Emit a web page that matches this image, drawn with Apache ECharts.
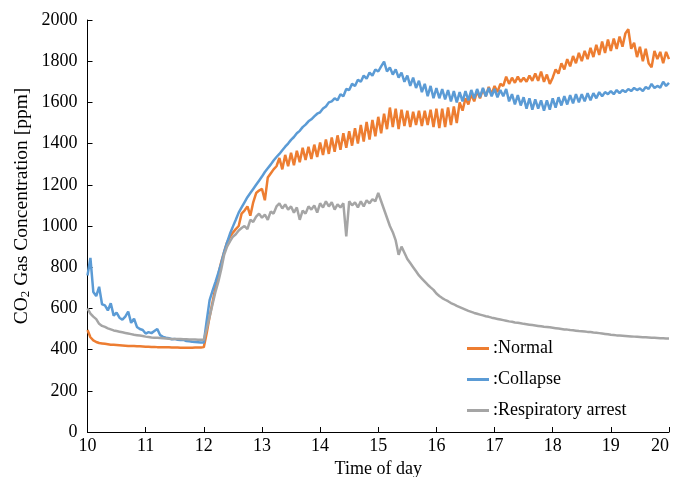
<!DOCTYPE html>
<html>
<head>
<meta charset="utf-8">
<script src="https://cdn.jsdelivr.net/npm/echarts@6/dist/echarts.min.js"></script>
<style>
html,body{margin:0;padding:0;background:#fff;}
#chart{width:673px;height:477px;}
</style>
</head>
<body>
<div id="chart"></div>
<script>
// Sampling: readings every 0.05 h starting at 10.00
const timeStart = 10.0;
const timeStep = 0.05;

const seriesNames = ['Normal', 'Collapse', 'Respiratory arrest'];
const xTicks = [10, 11, 12, 13, 14, 15, 16, 17, 18, 19, 20];
const yTicks = [0, 200, 400, 600, 800, 1000, 1200, 1400, 1600, 1800, 2000];

const normal = [
495,460,445,437,432,430,428,426,424,423,422,421,420,419,418,418,417,416,416,415,
414,414,413,413,412,412,411,411,411,410,410,410,409,409,409,409,409,410,410,410,
412,480,560,630,700,765,825,875,920,948,968,985,1000,1060,1075,1095,1050,1115,1160,1172,
1180,1125,1235,1255,1275,1290,1330,1275,1345,1290,1355,1295,1365,1310,1380,1320,1385,1325,1395,1335,
1405,1345,1420,1350,1430,1360,1440,1370,1450,1380,1460,1390,1475,1400,1490,1410,1505,1420,1515,1435,
1530,1450,1545,1470,1575,1480,1570,1470,1565,1485,1560,1480,1555,1490,1560,1485,1560,1490,1565,1480,
1570,1475,1570,1480,1575,1490,1580,1500,1600,1560,1620,1590,1640,1605,1655,1620,1665,1630,1675,1640,
1680,1650,1690,1680,1725,1690,1720,1695,1725,1700,1720,1700,1730,1705,1740,1705,1750,1700,1735,1690,
1720,1760,1740,1790,1760,1810,1775,1825,1790,1840,1800,1850,1810,1865,1820,1880,1830,1895,1840,1905,
1850,1910,1860,1920,1870,1935,1955,1860,1890,1820,1870,1800,1860,1790,1770,1850,1810,1845,1790,1845,
1810
];

const collapse = [
760,845,680,660,705,620,615,590,625,565,580,555,545,560,585,530,550,510,500,495,
478,485,480,490,500,470,462,458,455,450,452,448,446,447,442,440,438,437,436,434,
435,540,640,685,728,772,820,875,920,962,997,1030,1065,1090,1115,1140,1160,1180,1200,1220,
1240,1262,1280,1298,1318,1335,1350,1368,1385,1400,1418,1432,1450,1462,1480,1492,1508,1518,1532,1545,
1552,1570,1580,1600,1605,1620,1610,1640,1630,1665,1660,1690,1680,1710,1700,1730,1715,1745,1730,1760,
1750,1775,1798,1750,1770,1735,1760,1720,1745,1700,1730,1680,1720,1670,1705,1650,1690,1630,1680,1620,
1670,1620,1665,1615,1660,1605,1655,1600,1650,1605,1655,1610,1660,1620,1665,1625,1670,1630,1670,1630,
1665,1625,1660,1630,1665,1605,1640,1590,1635,1585,1625,1570,1620,1565,1615,1570,1610,1560,1610,1565,
1620,1575,1625,1585,1630,1590,1635,1595,1640,1600,1640,1605,1645,1610,1645,1620,1650,1630,1650,1640,
1655,1640,1660,1645,1660,1650,1665,1655,1670,1660,1668,1655,1675,1665,1690,1670,1680,1672,1700,1680,
1695
];

const respiratory = [
600,575,560,548,525,515,510,503,498,493,490,487,484,481,478,475,472,470,468,466,
463,461,459,458,457,456,455,454,453,452,452,451,451,450,450,449,449,449,448,448,
448,500,560,620,680,730,790,860,900,925,948,960,978,990,1000,985,1030,1020,1045,1060,
1040,1055,1030,1070,1060,1095,1110,1085,1105,1080,1095,1065,1090,1030,1075,1060,1095,1080,1100,1065,
1110,1090,1120,1095,1115,1080,1105,1090,1110,950,1120,1100,1115,1090,1120,1095,1125,1110,1130,1120,
1160,1120,1080,1040,1000,970,930,860,900,870,840,820,800,780,760,745,730,715,702,690,
672,660,650,642,635,626,620,612,606,600,594,588,583,578,574,570,566,562,559,555,
552,549,546,543,540,537,535,532,530,528,525,523,521,519,517,515,513,511,510,508,
506,504,502,500,498,497,495,494,492,490,489,488,486,485,483,482,480,478,476,474,
472,471,469,468,467,466,465,464,463,462,461,460,460,459,458,457,456,455,455,454,
454
];

const colors = ['#ED7D31', '#5B9BD5', '#A5A5A5'];
const FONT = '"Liberation Serif", "Times New Roman", serif';

function toPairs(arr) {
  return arr.map((v, i) => [+(timeStart + i * timeStep).toFixed(2), v]);
}

const chart = echarts.init(document.getElementById('chart'), null, {renderer: 'canvas'});
chart.setOption({
  animation: false,
  backgroundColor: '#ffffff',
  color: colors,
  grid: {left: 87.5, right: 4, top: 20, bottom: 45, containLabel: false, outerBoundsMode: 'none'},
  legend: {
    data: seriesNames,
    orient: 'vertical',
    left: 467,
    top: 338,
    padding: 0,
    icon: 'rect',
    itemWidth: 22,
    itemHeight: 3,
    itemGap: 10,
    formatter: name => ':' + name,
    textStyle: {fontFamily: FONT, fontSize: 18, color: '#000', lineHeight: 21, padding: [0, 0, 0, -1]}
  },
  xAxis: {
    type: 'value',
    min: xTicks[0],
    max: xTicks[xTicks.length - 1],
    interval: 1,
    name: 'Time of day',
    nameLocation: 'middle',
    nameGap: 27,
    nameTextStyle: {fontFamily: FONT, fontSize: 18, color: '#000'},
    axisLine: {show: true, lineStyle: {color: '#000', width: 1}},
    axisTick: {show: true, inside: true, length: 5, lineStyle: {color: '#000'}},
    axisLabel: {fontFamily: FONT, fontSize: 18, color: '#000', margin: 5, alignMaxLabel: 'right'},
    splitLine: {show: false}
  },
  yAxis: {
    type: 'value',
    min: yTicks[0],
    max: yTicks[yTicks.length - 1],
    interval: 200,
    axisLine: {show: true, lineStyle: {color: '#000', width: 1}},
    axisTick: {show: true, inside: true, length: 5, lineStyle: {color: '#000'}},
    axisLabel: {fontFamily: FONT, fontSize: 18, color: '#000', margin: 10, formatter: v => String(v)},
    splitLine: {show: false}
  },
  graphic: [{
    type: 'text',
    x: 22,
    y: 206,
    rotation: Math.PI / 2,
    style: {
      text: 'CO{sub|2} Gas Concentration [ppm]',
      fontFamily: FONT,
      fontSize: 19.5,
      fill: '#000',
      align: 'center',
      verticalAlign: 'middle',
      rich: {
        sub: {fontFamily: FONT, fontSize: 13, fill: '#000', verticalAlign: 'bottom', padding: [8, 0, 0, 0]}
      }
    }
  }],
  series: [
    {name: seriesNames[0], type: 'line', data: toPairs(normal), showSymbol: false, symbol: 'none', lineStyle: {width: 2.5}},
    {name: seriesNames[1], type: 'line', data: toPairs(collapse), showSymbol: false, symbol: 'none', lineStyle: {width: 2.5}},
    {name: seriesNames[2], type: 'line', data: toPairs(respiratory), showSymbol: false, symbol: 'none', lineStyle: {width: 2.5}}
  ]
});
</script>
</body>
</html>
